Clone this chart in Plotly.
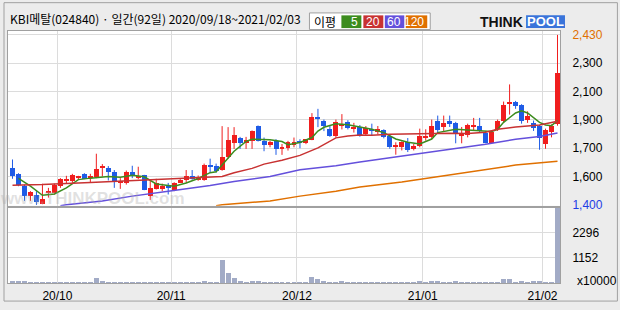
import plotly.graph_objects as go

# ---------------- data ----------------
title_text = "KBI메탈(024840) · 일간(92일) 2020/09/18~2021/02/03"

opens = [1621, 1588, 1517, 1454, 1458, 1408, 1473, 1473, 1513, 1546,
         1542, 1566, 1588, 1562, 1568, 1625, 1621, 1602, 1538, 1533,
         1602, 1567, 1578, 1454, 1497, 1499, 1523, 1493, 1538, 1548,
         1572, 1552, 1550, 1639, 1636, 1611, 1690, 1773, 1804, 1775,
         1788, 1877, 1788, 1763, 1788, 1739, 1745, 1763, 1788, 1773,
         1792, 1929, 1911, 1857, 1818, 1881, 1903, 1863, 1872, 1828,
         1862, 1842, 1854, 1818, 1749, 1749, 1779, 1740, 1755, 1809,
         1809, 1911, 1874, 1911, 1897, 1818, 1824, 1874, 1878, 1838,
         1775, 1858, 1911, 2012, 2022, 2006, 1913, 1897, 1878, 1769,
         1842, 1888]
highs = [1675, 1592, 1523, 1483, 1483, 1528, 1503, 1529, 1562, 1576,
         1588, 1576, 1592, 1588, 1710, 1647, 1635, 1611, 1562, 1608,
         1637, 1631, 1582, 1552, 1558, 1529, 1533, 1537, 1562, 1611,
         1611, 1578, 1650, 1680, 1650, 1877, 1871, 1871, 1812, 1812,
         1851, 1881, 1808, 1788, 1798, 1769, 1788, 1808, 1798, 1798,
         1956, 1982, 1917, 1883, 1917, 1950, 1913, 1897, 1884, 1878,
         1892, 1878, 1858, 1828, 1779, 1785, 1805, 1769, 1862, 1858,
         1917, 1941, 1941, 1941, 1903, 1872, 1892, 1927, 1927, 1848,
         1848, 1917, 2026, 2130, 2030, 2010, 1967, 1911, 1884, 1862,
         1888, 2430]
lows = [1558, 1513, 1424, 1424, 1400, 1404, 1444, 1463, 1503, 1529,
        1533, 1552, 1556, 1533, 1562, 1572, 1548, 1503, 1497, 1523,
        1562, 1556, 1489, 1430, 1493, 1483, 1463, 1483, 1533, 1533,
        1552, 1546, 1546, 1595, 1595, 1607, 1680, 1739, 1739, 1739,
        1739, 1784, 1725, 1749, 1703, 1703, 1729, 1749, 1743, 1768,
        1792, 1871, 1847, 1812, 1808, 1857, 1857, 1838, 1813, 1818,
        1818, 1828, 1803, 1740, 1704, 1730, 1720, 1730, 1749, 1789,
        1799, 1838, 1848, 1872, 1773, 1773, 1809, 1848, 1842, 1773,
        1773, 1848, 1897, 1947, 1982, 1892, 1897, 1848, 1734, 1740,
        1809, 1880]
closes = [1572, 1519, 1454, 1477, 1418, 1438, 1483, 1523, 1556, 1558,
          1578, 1572, 1558, 1576, 1617, 1637, 1598, 1542, 1544, 1598,
          1572, 1574, 1493, 1503, 1533, 1517, 1503, 1533, 1548, 1576,
          1560, 1568, 1642, 1633, 1607, 1690, 1794, 1824, 1773, 1792,
          1847, 1788, 1763, 1778, 1739, 1753, 1778, 1778, 1778, 1798,
          1932, 1923, 1877, 1818, 1903, 1887, 1863, 1873, 1822, 1868,
          1848, 1858, 1809, 1749, 1763, 1779, 1730, 1759, 1815, 1815,
          1878, 1852, 1897, 1893, 1828, 1828, 1882, 1882, 1848, 1775,
          1844, 1911, 2006, 2022, 2000, 1911, 1941, 1868, 1805, 1852,
          1878, 2199]
volumes = [105, 105, 105, 45, 45, 45, 45, 45, 45, 45,
           45, 45, 45, 45, 245, 105, 45, 45, 45, 45,
           45, 45, 45, 45, 45, 45, 45, 45, 45, 45,
           45, 45, 105, 45, 45, 1070, 490, 260, 105, 45,
           105, 105, 45, 45, 45, 45, 45, 45, 45, 45,
           305, 200, 105, 45, 45, 105, 45, 45, 45, 45,
           45, 45, 45, 45, 45, 45, 45, 45, 105, 45,
           105, 105, 45, 45, 105, 45, 45, 45, 45, 45,
           45, 45, 200, 200, 45, 105, 45, 105, 105, 45,
           45, 3444]

# moving averages (candle index, price)
ma5_idx = [1, 3, 5, 7, 9, 11, 13, 16, 18, 20, 22, 24, 27, 29, 31, 32, 33, 34,
           36, 37, 39, 40, 43, 45, 46, 48, 50, 51, 52, 54, 56, 58, 60, 62, 64,
           66, 68, 70, 71, 74, 76, 78, 80, 81, 82, 84, 85, 86, 88, 89, 90, 91]
ma5_val = [1560, 1513, 1458, 1466, 1503, 1553, 1562, 1572, 1568, 1580, 1570,
           1527, 1513, 1533, 1560, 1580, 1595, 1601, 1686, 1725, 1785, 1798,
           1794, 1784, 1765, 1778, 1808, 1847, 1870, 1891, 1885, 1870, 1858,
           1838, 1799, 1779, 1769, 1799, 1838, 1858, 1852, 1848, 1844, 1858,
           1900, 1957, 1970, 1957, 1900, 1884, 1880, 1911]
ma20_idx = [0, 5, 13, 21, 24, 33, 35, 37, 40, 42, 45, 48, 51, 54, 56, 58, 60,
            63, 66, 70, 73, 76, 79, 81, 84, 88, 91]
ma20_val = [1519, 1523, 1536, 1548, 1556, 1566, 1572, 1595, 1621, 1647, 1670,
            1700, 1745, 1806, 1818, 1824, 1822, 1828, 1830, 1836, 1834, 1832,
            1840, 1858, 1872, 1884, 1907]
ma60_idx = [8, 9, 15, 20, 26, 33, 37, 43, 48, 54, 58, 62, 68, 73, 79, 84, 88, 91]
ma60_val = [1395, 1400, 1424, 1453, 1483, 1517, 1542, 1572, 1613, 1637, 1660,
            1680, 1708, 1733, 1767, 1798, 1814, 1835]
ma120_idx = [34, 35, 43, 48, 54, 58, 65, 72, 79, 84, 91]
ma120_val = [1395, 1400, 1424, 1453, 1483, 1508, 1539, 1576, 1613, 1641, 1665]

month_labels = ["20/10", "20/11", "20/12", "21/01", "21/02"]
month_first_idx = [8, 27, 48, 69, 89]
vol_tick_labels = ["1152", "2296"]
ma_labels = ["5", "20", "60", "120"]

# ---------------- styles ----------------
RED = "#F01E1E"
BLUE = "#1F5CE6"
VOLC = "#A2ABC6"
MA_COLORS = ["#3C8C1E", "#C83232", "#6450DC", "#E07000"]
GRID = "#DCDCDC"
BORDER = "#A0A0A0"
BG = "#ECECEC"
FONT = "Liberation Sans"
KFONT = "Noto Sans CJK KR"

W, H = 620, 310
L, R, T, B = 7, 560, 31, 289          # plot area in px
MAIN_BOT, VOL_TOP = 210, 212


def px(x):
    return (x - L) / (R - L)


def py(y):
    return (B - y) / (B - T)


n = len(closes)
idx = list(range(n))
up = [c >= o for o, c in zip(opens, closes)]

# x range: candle i centred at 11.5 + 6 i px
x0 = -0.75
xr = [x0, x0 + (R - L) / 6.0]
grid_x = [m - 0.5 for m in month_first_idx]

# price axis: 7 evenly spaced gridlines from lowest low to highest high
pmin, pmax = min(lows), max(highs)
ptick = [pmin + k * (pmax - pmin) / 6 for k in range(7)]
per_px = (pmax - pmin) / 174.0
yr = [pmin - per_px * 1, pmax + per_px * 4]
ptext = []
for k, v in enumerate(ptick):
    if k == 0:
        ptext.append('<span style="color:#1E3CE6">{:,}</span>'.format(int(v)))
    elif k == 6:
        ptext.append('<span style="color:#E07000">{:,}</span>'.format(int(v)))
    else:
        ptext.append("{:,}".format(int(round(v / 100.0) * 100)))

vmax = max(volumes)
vtick = [vmax / 3, 2 * vmax / 3]

fig = go.Figure()

# wicks
for color, cond in ((RED, True), (BLUE, False)):
    xs, ys = [], []
    for i in idx:
        if up[i] == cond:
            xs += [i, i, None]
            ys += [lows[i], highs[i], None]
    fig.add_trace(go.Scatter(x=xs, y=ys, mode="lines",
                             line=dict(color=color, width=1),
                             xaxis="x", yaxis="y", hoverinfo="skip"))

# bodies
fig.add_trace(go.Bar(x=idx, y=[abs(c - o) for o, c in zip(opens, closes)],
                     base=[min(o, c) for o, c in zip(opens, closes)],
                     width=0.83,
                     marker=dict(color=[RED if u else BLUE for u in up],
                                 line=dict(width=0)),
                     xaxis="x", yaxis="y"))

# moving averages
for (mi, mv), col in zip([(ma5_idx, ma5_val), (ma20_idx, ma20_val),
                          (ma60_idx, ma60_val), (ma120_idx, ma120_val)],
                         MA_COLORS):
    fig.add_trace(go.Scatter(x=mi, y=mv, mode="lines",
                             line=dict(color=col, width=1.5),
                             xaxis="x", yaxis="y"))

# volume
fig.add_trace(go.Bar(x=idx, y=volumes, width=0.83,
                     marker=dict(color=VOLC, line=dict(width=0)),
                     xaxis="x2", yaxis="y2"))

axis_common = dict(showline=True, mirror=True, linecolor=BORDER, linewidth=1,
                   zeroline=False, ticks="", showgrid=True, gridcolor=GRID,
                   gridwidth=1, fixedrange=True)

fig.update_layout(
    width=W, height=H,
    margin=dict(l=L, r=W - R, t=T, b=H - B, pad=0),
    paper_bgcolor=BG, plot_bgcolor="#FFFFFF",
    showlegend=False, bargap=0,
    font=dict(family=FONT, size=12, color="#000000"),
    xaxis=dict(domain=[0, 1], anchor="y", range=xr, tickmode="array",
               tickvals=grid_x, showticklabels=False, **axis_common),
    yaxis=dict(domain=[py(MAIN_BOT), 1], anchor="x", range=yr, side="right",
               tickmode="array", tickvals=ptick, ticktext=ptext,
               ticklabelstandoff=9, tickfont=dict(family=FONT, size=12),
               **axis_common),
    xaxis2=dict(domain=[0, 1], anchor="y2", range=xr, tickmode="array",
                tickvals=grid_x, ticktext=month_labels,
                ticklabelstandoff=2, tickfont=dict(family=FONT, size=12),
                **axis_common),
    yaxis2=dict(domain=[0, py(VOL_TOP)], anchor="x2", range=[0, vmax],
                side="right", tickmode="array", tickvals=vtick,
                ticktext=vol_tick_labels, ticklabelstandoff=9,
                tickfont=dict(family=FONT, size=12), **axis_common),
)

shapes = []
ann = []
# outer frame
shapes.append(dict(type="rect", xref="paper", yref="paper",
                   x0=px(3), x1=px(617.5), y0=py(307.5), y1=py(2),
                   line=dict(color=BORDER, width=1), fillcolor="rgba(0,0,0,0)",
                   layer="below"))
# title
ann.append(dict(x=px(7), y=py(18.5), xref="paper", yref="paper",
                text=title_text, showarrow=False, xanchor="left",
                yanchor="middle",
                font=dict(family=KFONT, size=12, color="#000000")))
# MA legend box
shapes.append(dict(type="rect", xref="paper", yref="paper",
                   x0=px(309), x1=px(430), y0=py(29.5), y1=py(12.5),
                   line=dict(color=BORDER, width=1), fillcolor="#FFFFFF"))
ann.append(dict(x=px(325), y=py(21), xref="paper", yref="paper",
                text="이평", showarrow=False, xanchor="center",
                yanchor="middle",
                font=dict(family=KFONT, size=12, color="#000000")))
box_x = [(341, 361), (363, 383), (384.5, 404), (405.5, 427)]
for (a, b), col, lab in zip(box_x, MA_COLORS, ma_labels):
    shapes.append(dict(type="rect", xref="paper", yref="paper",
                       x0=px(a), x1=px(b), y0=py(28), y1=py(15),
                       line=dict(width=0), fillcolor=col))
    ann.append(dict(x=px(b - 1), y=py(21.5), xref="paper", yref="paper",
                    text=lab, showarrow=False, xanchor="right",
                    yanchor="middle",
                    font=dict(family=FONT, size=12, color="#FFFFFF")))
# ThinkPool logo
ann.append(dict(x=px(525), y=py(21.5), xref="paper", yref="paper",
                text="<b>THINK</b>", showarrow=False, xanchor="right",
                yanchor="middle",
                font=dict(family=FONT, size=14, color="#111111")))
shapes.append(dict(type="rect", xref="paper", yref="paper",
                   x0=px(526), x1=px(565), y0=py(28), y1=py(15),
                   line=dict(width=0), fillcolor="#3A74DA"))
ann.append(dict(x=px(545.5), y=py(21.5), xref="paper", yref="paper",
                text="<b>POOL</b>", showarrow=False, xanchor="center",
                yanchor="middle",
                font=dict(family=FONT, size=13, color="#FFFFFF")))
# watermark
ann.append(dict(x=px(92), y=py(202), xref="paper", yref="paper",
                text="<b>www.THINKPOOL.com</b>", showarrow=False,
                xanchor="center", yanchor="middle",
                font=dict(family=FONT, size=17, color="rgba(170,170,170,0.35)")))
# volume unit
ann.append(dict(x=px(575), y=py(287), xref="paper", yref="paper",
                text="x10000", showarrow=False, xanchor="left",
                yanchor="middle",
                font=dict(family=FONT, size=12, color="#000000")))

fig.update_layout(shapes=shapes, annotations=ann)

fig.write_html("out.html")
